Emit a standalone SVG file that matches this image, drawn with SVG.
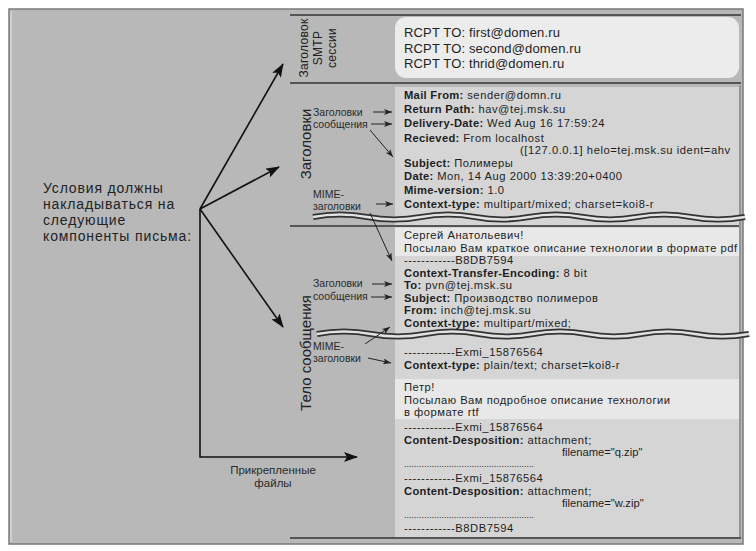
<svg xmlns="http://www.w3.org/2000/svg" width="756" height="551" viewBox="0 0 756 551">
<defs>
<style>
text{font-family:"Liberation Sans",Arial,sans-serif;fill:#1e1e1e}
.m{font-size:11.2px;letter-spacing:0.55px}
.cy{letter-spacing:0.5px}
.fn{letter-spacing:0px}
.r{font-size:13px;letter-spacing:0.15px}
.b{font-weight:bold;letter-spacing:0.3px}
.s{font-size:10.5px;fill:#2a2a2a}
.big{font-size:14px;letter-spacing:0.85px;fill:#222}
.rot{font-size:15px;fill:#222}
.rs{font-size:12px;letter-spacing:0.3px;fill:#222}
.dots{font-size:9px;letter-spacing:0px}
.sec{stroke:#555;stroke-width:2;fill:none}
.ar{stroke:#111;stroke-width:1.6;fill:none}
.sa{stroke:#222;stroke-width:1;fill:none}
.wv1{stroke:#333;stroke-width:6;fill:none}
.wv2{stroke:#e2e2e2;stroke-width:2.4;fill:none}
</style>
<marker id="ah" markerUnits="userSpaceOnUse" markerWidth="14" markerHeight="10" refX="13" refY="5" orient="auto"><path d="M0,0 L14,5 L0,10 L3,5 Z" fill="#111"/></marker>
<marker id="sh" markerUnits="userSpaceOnUse" markerWidth="8" markerHeight="6" refX="8" refY="3" orient="auto"><path d="M0,0 L8,3 L0,6 L2,3 Z" fill="#222"/></marker>
</defs>

<rect x="9" y="9" width="734" height="535" fill="#b8b8b8" stroke="#7a7a7a" stroke-width="1.5"/>
<line x1="11" y1="11" x2="11" y2="542" stroke="#e4e4e4" stroke-width="1"/>

<g id="panel">
<rect x="395" y="87" width="344" height="450" fill="#d5d5d5"/>
<rect x="395" y="228" width="344" height="28" fill="#e8e8e8"/>
<rect x="395" y="379" width="344" height="40" fill="#e8e8e8"/>
<line x1="740" y1="85" x2="740" y2="538" stroke="#8a8a8a" stroke-width="1.5"/>
</g>

<g id="sections">
<line class="sec" x1="290" y1="15" x2="741" y2="15"/>
<line class="sec" x1="290" y1="83" x2="741" y2="83"/>
<line class="sec" x1="290" y1="226" x2="739" y2="226"/>
<line class="sec" x1="290" y1="538" x2="741" y2="538"/>
<path class="wv1" d="M313,217 q27,-5 54,0 t54,0 t54,0 t54,0 t54,0 t54,0 t54,0 t54,0"/>
<path class="wv2" d="M313,217 q27,-5 54,0 t54,0 t54,0 t54,0 t54,0 t54,0 t54,0 t54,0"/>
<path class="wv1" d="M317,334 q27,-5 54,0 t54,0 t54,0 t54,0 t54,0 t54,0 t54,0 t54,0"/>
<path class="wv2" d="M317,334 q27,-5 54,0 t54,0 t54,0 t54,0 t54,0 t54,0 t54,0 t54,0"/>
</g>

<g id="smtp">
<rect x="395" y="17" width="344" height="61" rx="11" fill="#ececec"/>
<text class="r" x="404" y="37">RCPT TO: first@domen.ru</text>
<text class="r" x="404" y="53">RCPT TO: second@domen.ru</text>
<text class="r" x="404" y="68">RCPT TO: thrid@domen.ru</text>
<text class="rs" text-anchor="middle" transform="translate(308,48) rotate(-90)">Заголовок</text>
<text class="rs" text-anchor="middle" transform="translate(322,48) rotate(-90)">SMTP</text>
<text class="rs" text-anchor="middle" transform="translate(336,48) rotate(-90)">сессии</text>
</g>

<g id="headers">
<text class="rot" text-anchor="middle" transform="translate(311,144) rotate(-90)">Заголовки</text>
<text class="m" x="404" y="99"><tspan class="b">Mail From:</tspan> sender@domn.ru</text>
<text class="m" x="404" y="113"><tspan class="b">Return Path:</tspan> hav@tej.msk.su</text>
<text class="m" x="404" y="127"><tspan class="b">Delivery-Date:</tspan> Wed Aug 16 17:59:24</text>
<text class="m" x="404" y="141.5"><tspan class="b">Recieved:</tspan> From localhost</text>
<text class="m" x="520" y="154">([127.0.0.1] helo=tej.msk.su ident=ahv</text>
<text class="m" x="404" y="166.5"><tspan class="b">Subject:</tspan> <tspan class="cy">Полимеры</tspan></text>
<text class="m" x="404" y="180"><tspan class="b">Date:</tspan> Mon, 14 Aug 2000 13:39:20+0400</text>
<text class="m" x="404" y="194"><tspan class="b">Mime-version:</tspan> 1.0</text>
<text class="m" x="404" y="208"><tspan class="b">Context-type:</tspan> multipart/mixed; charset=koi8-r</text>
<text class="s" x="313" y="116">Заголовки</text>
<text class="s" x="313" y="128">сообщения</text>
<text class="s" x="313" y="198">MIME-</text>
<text class="s" x="313" y="210">заголовки</text>
</g>

<g id="body">
<text class="rot" text-anchor="middle" transform="translate(311,353) rotate(-90)">Тело сообщения</text>
<text class="m cy" x="404" y="239">Сергей Анатольевич!</text>
<text class="m cy" x="404" y="251.5">Посылаю Вам краткое описание технологии в формате pdf</text>
<text class="m" x="404" y="264">------------B8DB7594</text>
<text class="m" x="404" y="276.5"><tspan class="b">Context-Transfer-Encoding:</tspan> 8 bit</text>
<text class="m" x="404" y="289"><tspan class="b">To:</tspan> pvn@tej.msk.su</text>
<text class="m" x="404" y="301.5"><tspan class="b">Subject:</tspan> <tspan class="cy">Производство полимеров</tspan></text>
<text class="m" x="404" y="314"><tspan class="b">From:</tspan> inch@tej.msk.su</text>
<text class="m" x="404" y="326.5"><tspan class="b">Context-type:</tspan> multipart/mixed;</text>
<text class="m" x="404" y="356">------------Exmi_15876564</text>
<text class="m" x="404" y="369"><tspan class="b">Context-type:</tspan> plain/text; charset=koi8-r</text>
<text class="m cy" x="404" y="391">Петр!</text>
<text class="m cy" x="404" y="403.5">Посылаю Вам подробное описание  технологии</text>
<text class="m cy" x="404" y="416">в формате rtf</text>
<text class="s" x="313" y="287">Заголовки</text>
<text class="s" x="313" y="300">сообщения</text>
<text class="s" x="313" y="350">MIME-</text>
<text class="s" x="313" y="362">заголовки</text>
</g>

<g id="attachments">
<text class="m" x="404" y="431">------------Exmi_15876564</text>
<text class="m" x="404" y="443.5"><tspan class="b">Content-Desposition:</tspan> attachment;</text>
<text class="m fn" x="562" y="456">filename="q.zip"</text>
<text class="dots" x="404" y="467">....................................................</text>
<text class="m" x="404" y="482">------------Exmi_15876564</text>
<text class="m" x="404" y="494.5"><tspan class="b">Content-Desposition:</tspan> attachment;</text>
<text class="m fn" x="562" y="507">filename="w.zip"</text>
<text class="dots" x="404" y="518">....................................................</text>
<text class="m" x="404" y="532">------------B8DB7594</text>
<text class="s" x="273" y="474" text-anchor="middle" style="font-size:11.5px">Прикрепленные</text>
<text class="s" x="273" y="487" text-anchor="middle" style="font-size:11.5px">файлы</text>
</g>

<g id="conditions">
<text class="big" x="43" y="192.5">Условия должны</text>
<text class="big" x="43" y="208.5">накладываться на</text>
<text class="big" x="43" y="224.5">следующие</text>
<text class="big" x="43" y="240.5">компоненты письма:</text>
</g>

<g id="connectors">
<line class="ar" x1="200" y1="209" x2="283" y2="64" marker-end="url(#ah)"/>
<line class="ar" x1="200" y1="209" x2="279" y2="167" marker-end="url(#ah)"/>
<line class="ar" x1="200" y1="209" x2="283" y2="327" marker-end="url(#ah)"/>
<polyline class="ar" points="200,209 200,457 357,457" marker-end="url(#ah)"/>
<line class="sa" x1="373" y1="112" x2="392" y2="112" marker-end="url(#sh)"/>
<line class="sa" x1="371" y1="124" x2="392" y2="124" marker-end="url(#sh)"/>
<line class="sa" x1="370" y1="130" x2="393" y2="157" marker-end="url(#sh)"/>
<line class="sa" x1="376" y1="204" x2="393" y2="204" marker-end="url(#sh)"/>
<line class="sa" x1="370" y1="213" x2="392" y2="261" marker-end="url(#sh)"/>
<line class="sa" x1="372" y1="284" x2="392" y2="284" marker-end="url(#sh)"/>
<line class="sa" x1="371" y1="297" x2="392" y2="297" marker-end="url(#sh)"/>
<line class="sa" x1="365" y1="344" x2="390" y2="327" marker-end="url(#sh)"/>
<line class="sa" x1="368" y1="358" x2="391" y2="363" marker-end="url(#sh)"/>
</g>
</svg>
